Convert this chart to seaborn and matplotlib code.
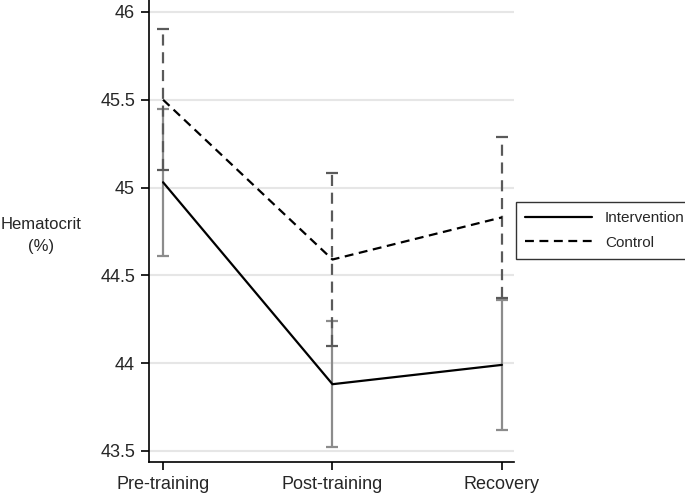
import matplotlib
matplotlib.use("Agg")
import matplotlib.pyplot as plt
import seaborn as sns
import pandas as pd
import numpy as np

# Values
phases = ["Pre-training", "Post-training", "Recovery"]
intervention_mean = [45.03, 43.88, 43.99]
intervention_err = [0.42, 0.36, 0.37]
control_mean = [45.50, 44.59, 44.83]
control_err = [0.40, 0.49, 0.46]

df = pd.DataFrame({
    "Phase": phases * 2,
    "x": list(range(len(phases))) * 2,
    "Hematocrit": intervention_mean + control_mean,
    "Group": ["Intervention"] * 3 + ["Control"] * 3,
})

sns.set_style("white")
plt.rcParams['font.family'] = ['Liberation Sans', 'DejaVu Sans']

fig = plt.figure(figsize=(6.85, 4.95), dpi=100)
ax = fig.add_axes([0.2175, 0.0667, 0.5325, 0.9333])

# gridlines
ax.set_yticks([43.5, 44, 44.5, 45, 45.5, 46])
ax.yaxis.grid(True, color="#e6e6e6", linewidth=1.5)
ax.set_axisbelow(True)

# error bars first so the mean lines sit on top
xs = np.arange(len(phases))
eb1 = ax.errorbar(xs, intervention_mean, yerr=intervention_err, fmt="none",
                  ecolor="#8c8c8c", elinewidth=1.6, capsize=4, capthick=1.6)
eb2 = ax.errorbar(xs, control_mean, yerr=control_err, fmt="none",
                  ecolor="#5a5a5a", elinewidth=1.6, capsize=4, capthick=1.6)
for ln in eb2[2]:
    ln.set_linestyle((0, (5, 3)))

sns.lineplot(data=df, x="x", y="Hematocrit", style="Group",
             style_order=["Intervention", "Control"],
             dashes={"Intervention": "", "Control": (4, 2.5)},
             color="black", linewidth=1.6, ax=ax, legend=True)

ax.set_xlim(-0.083, 2.07)
ax.set_ylim(43.437, 46.068)
ax.set_xticks(xs)
ax.set_xticklabels(phases, fontsize=13)
ax.set_yticklabels(["43.5", "44", "44.5", "45", "45.5", "46"], fontsize=13)
ax.set_xlabel("")
ax.set_ylabel("Hematocrit\n(%)", fontsize=12, rotation=0, ha="center", va="center",
              linespacing=1.6)
ax.yaxis.set_label_coords(-0.297, 0.49)

for s in ["top", "right"]:
    ax.spines[s].set_visible(False)
for s in ["left", "bottom"]:
    ax.spines[s].set_color("black")
    ax.spines[s].set_linewidth(1.2)
ax.tick_params(axis="both", which="both", direction="out", length=6, width=1.2,
               color="black", left=True, bottom=True, pad=4)

leg = ax.legend(loc="upper left", bbox_to_anchor=(1.005, 0.563), borderaxespad=0,
                frameon=True, fancybox=False, edgecolor="black", fontsize=11,
                handlelength=4.4, handletextpad=0.85,
                borderpad=0.6, labelspacing=0.7)
leg.get_frame().set_linewidth(1.0)

fig.savefig("out.png", dpi=100)
